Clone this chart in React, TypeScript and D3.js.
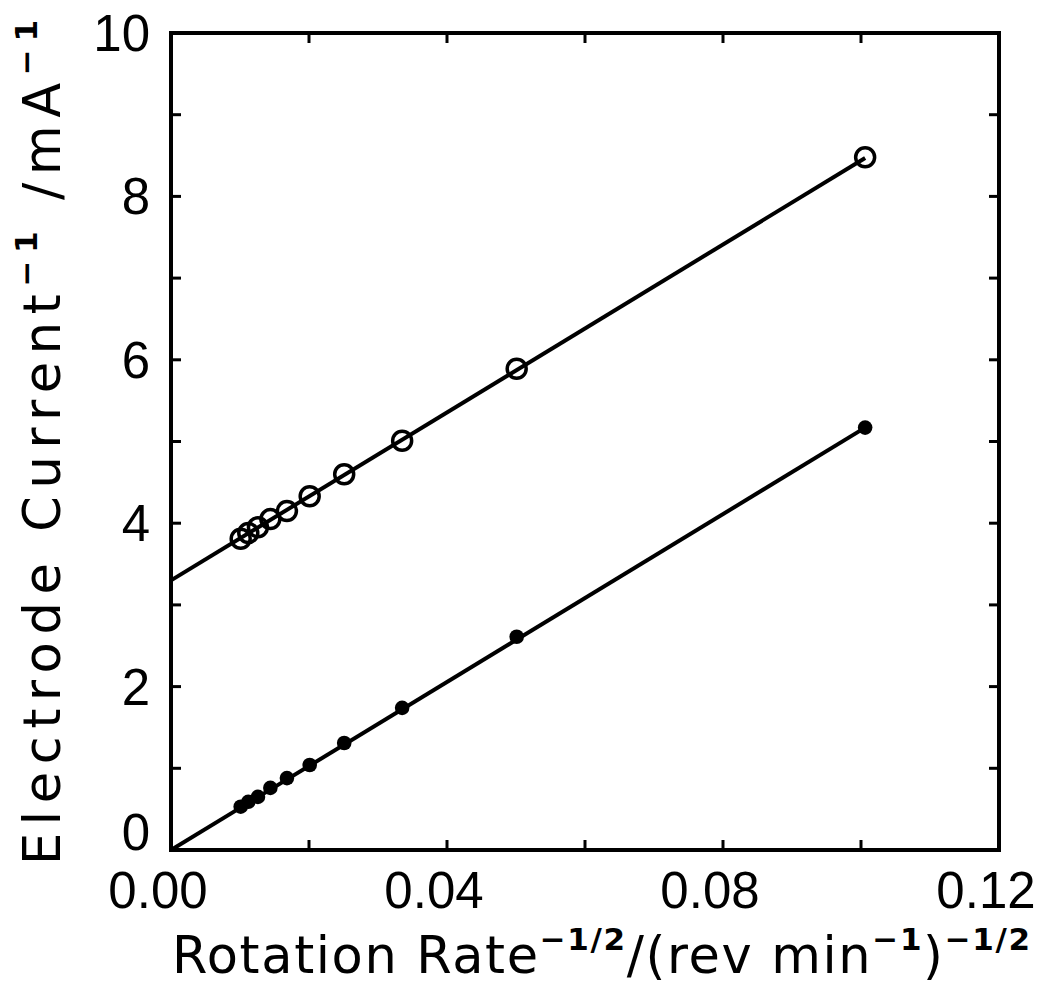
import React from "react";
import * as d3 from "d3";

const rotationX = [0.1006, 0.0501, 0.0335, 0.0251, 0.0201, 0.0168, 0.0144, 0.0126, 0.0112, 0.0101];
const openY = [8.48, 5.89, 5.01, 4.6, 4.33, 4.15, 4.05, 3.95, 3.88, 3.81];
const filledY = [5.17, 2.61, 1.74, 1.31, 1.04, 0.88, 0.76, 0.65, 0.59, 0.53];
const openFitX = [0, 0.1006];
const openFitY = [3.3, 8.47];
const filledFitX = [0, 0.1006];
const filledFitY = [0, 5.17];
const xTicks = [0, 0.02, 0.04, 0.06, 0.08, 0.1, 0.12];
const xLabels = ["0.00", "0.04", "0.08", "0.12"];
const xLabelVals = [0, 0.04, 0.08, 0.12];
const yTicks = [0, 1, 2, 3, 4, 5, 6, 7, 8, 9, 10];
const yLabelVals = [0, 2, 4, 6, 8, 10];

const W = 1046, H = 988;
const FONT = "'Liberation Sans', Arial, sans-serif";
const TFONT = "'DejaVu Sans', 'Liberation Sans', sans-serif";

export default function App() {
  const x = d3.scaleLinear().domain([0, 0.12]).range([171, 999]);
  const y = d3.scaleLinear().domain([0, 10]).range([850, 33]);
  const line = d3.line<[number, number]>().x(d => x(d[0])).y(d => y(d[1]));
  const openFit = openFitX.map((v, i) => [v, openFitY[i]] as [number, number]);
  const filledFit = filledFitX.map((v, i) => [v, filledFitY[i]] as [number, number]);
  const [x0, x1] = x.range();
  const [y0, y1] = y.range();
  const tl = 10;
  return (
    <svg width={W} height={H} style={{ position: "absolute", left: 0, top: 0, background: "#fff" }} fontFamily={FONT}>
      <rect x={0} y={0} width={W} height={H} fill="#fff" />
      <path d={line(openFit) || ""} stroke="#000" strokeWidth={4} fill="none" />
      <path d={line(filledFit) || ""} stroke="#000" strokeWidth={4} fill="none" />
      {rotationX.map((v, i) => (
        <circle key={"o" + i} cx={x(v)} cy={y(openY[i])} r={9.5} fill="none" stroke="#000" strokeWidth={3.5} />
      ))}
      {rotationX.map((v, i) => (
        <circle key={"f" + i} cx={x(v)} cy={y(filledY[i])} r={7.3} fill="#000" />
      ))}
      <rect x={x0} y={y1} width={x1 - x0} height={y0 - y1} fill="none" stroke="#000" strokeWidth={4} />
      {xTicks.map((t, i) => (
        <g key={"xt" + i}>
          <line x1={x(t)} x2={x(t)} y1={y0} y2={y0 - tl} stroke="#000" strokeWidth={3} />
          <line x1={x(t)} x2={x(t)} y1={y1} y2={y1 + tl} stroke="#000" strokeWidth={3} />
        </g>
      ))}
      {yTicks.map((t, i) => (
        <g key={"yt" + i}>
          <line x1={x0} x2={x0 + tl} y1={y(t)} y2={y(t)} stroke="#000" strokeWidth={3} />
          <line x1={x1} x2={x1 - tl} y1={y(t)} y2={y(t)} stroke="#000" strokeWidth={3} />
        </g>
      ))}
      {xLabelVals.map((t, i) => (
        <text key={"xl" + i} x={x(t) - 13} y={908} fontSize={51} textAnchor="middle">{xLabels[i]}</text>
      ))}
      {yLabelVals.map((t, i) => (
        <text key={"yl" + i} x={150} y={y(t) + (t === 0 ? 0 : 18)} fontSize={51} textAnchor="end">{String(t)}</text>
      ))}
      <text x={172} y={973} fontSize={51} fontFamily={TFONT} textLength={858} lengthAdjust="spacing">
        <tspan>Rotation  Rate</tspan>
        <tspan dy={-23} fontSize={31} fontWeight="bold">−1/2</tspan>
        <tspan dy={23}>/(rev  min</tspan>
        <tspan dy={-23} fontSize={31} fontWeight="bold">−1</tspan>
        <tspan dy={23}>)</tspan>
        <tspan dy={-23} fontSize={31} fontWeight="bold">−1/2</tspan>
      </text>
      <text transform="translate(60,865) rotate(-90)" x={0} y={0} fontSize={51} fontFamily={TFONT} textLength={845} lengthAdjust="spacing">
        <tspan>Electrode  Current</tspan>
        <tspan dy={-23} fontSize={31} fontWeight="bold">−1</tspan>
        <tspan dy={23}> /mA</tspan>
        <tspan dy={-23} fontSize={31} fontWeight="bold">−1</tspan>
      </text>
    </svg>
  );
}
